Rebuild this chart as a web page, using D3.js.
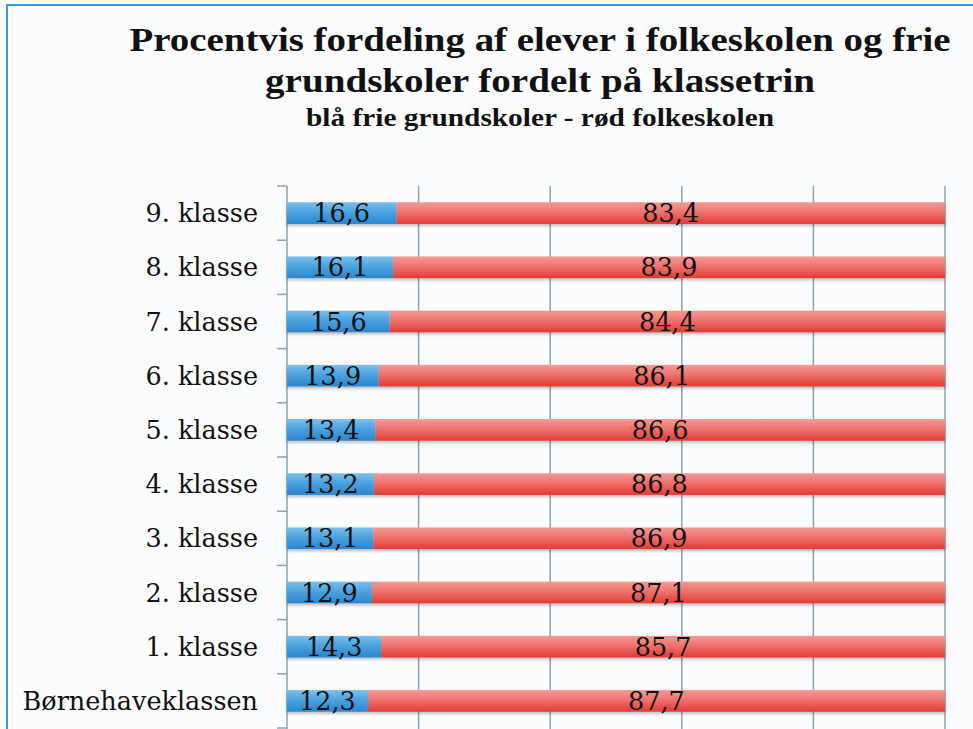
<!DOCTYPE html>
<html>
<head>
<meta charset="utf-8">
<script src="https://cdn.jsdelivr.net/npm/d3@7"></script>
<style>
  body { margin: 0; background: #fff; }
</style>
</head>
<body>
<svg id="chart" width="973" height="729"></svg>
<script>
const categories = ["9. klasse", "8. klasse", "7. klasse", "6. klasse", "5. klasse",
  "4. klasse", "3. klasse", "2. klasse", "1. klasse", "Børnehaveklassen"];
const frie = [16.6, 16.1, 15.6, 13.9, 13.4, 13.2, 13.1, 12.9, 14.3, 12.3];
const folke = [83.4, 83.9, 84.4, 86.1, 86.6, 86.8, 86.9, 87.1, 85.7, 87.7];
const gridTicks = [20, 40, 60, 80, 100];
const titleLines = [
  "Procentvis fordeling af elever i folkeskolen og frie",
  "grundskoler fordelt på klassetrin",
  "blå frie grundskoler - rød folkeskolen"
];

const svg = d3.select("#chart");

const defs = svg.append("defs");

const blueGrad = defs.append("linearGradient")
  .attr("id", "blueGrad").attr("x1", 0).attr("y1", 0).attr("x2", 0).attr("y2", 1);
blueGrad.append("stop").attr("offset", "0%").attr("stop-color", "#7cc0ec");
blueGrad.append("stop").attr("offset", "45%").attr("stop-color", "#4aa3df");
blueGrad.append("stop").attr("offset", "100%").attr("stop-color", "#2a86cc");

const redGrad = defs.append("linearGradient")
  .attr("id", "redGrad").attr("x1", 0).attr("y1", 0).attr("x2", 0).attr("y2", 1);
redGrad.append("stop").attr("offset", "0%").attr("stop-color", "#f49a95");
redGrad.append("stop").attr("offset", "45%").attr("stop-color", "#ef726d");
redGrad.append("stop").attr("offset", "100%").attr("stop-color", "#e03b36");

const shadow = defs.append("filter").attr("id", "shadow")
  .attr("x", "-5%").attr("y", "-30%").attr("width", "110%").attr("height", "180%");
shadow.append("feDropShadow")
  .attr("dx", 0).attr("dy", 2).attr("stdDeviation", 1.5)
  .attr("flood-color", "#000").attr("flood-opacity", 0.25);

// frame
svg.append("rect")
  .attr("x", 7).attr("y", 5)
  .attr("width", 980).attr("height", 740)
  .attr("fill", "#fbfcfe")
  .attr("stroke", "#3a9ae0")
  .attr("stroke-width", 2);

// title
const titleY = [51, 92, 126];
const titleSize = [34, 34, 26];
const titleLen = [821, 550, 468];
svg.selectAll(".title")
  .data(titleLines)
  .enter()
  .append("text")
  .attr("class", "title")
  .attr("x", 540)
  .attr("y", (d, i) => titleY[i])
  .attr("text-anchor", "middle")
  .attr("font-family", "'Liberation Serif', serif")
  .attr("font-weight", "bold")
  .attr("font-size", (d, i) => titleSize[i])
  .attr("textLength", (d, i) => titleLen[i])
  .attr("lengthAdjust", "spacingAndGlyphs")
  .attr("fill", "#111")
  .text(d => d);

const x = d3.scaleLinear().domain([0, 100]).range([287, 945]);
const y = d3.scaleBand()
  .domain(categories)
  .range([186, 728])
  .paddingInner(0.6)
  .paddingOuter(0.3);

const plotTop = 186, plotBottom = 729;

// gridlines
svg.selectAll(".grid")
  .data(gridTicks)
  .enter()
  .append("line")
  .attr("class", "grid")
  .attr("x1", d => x(d)).attr("x2", d => x(d))
  .attr("y1", plotTop).attr("y2", plotBottom)
  .attr("stroke", "#8ea2b2")
  .attr("stroke-width", 1.5);

// axis line with boundary ticks
svg.append("line")
  .attr("x1", x(0)).attr("x2", x(0))
  .attr("y1", plotTop).attr("y2", plotBottom)
  .attr("stroke", "#8ea2b2")
  .attr("stroke-width", 1.5);

const boundaries = d3.range(categories.length + 1).map(i => plotTop + i * y.step());
svg.selectAll(".ytick")
  .data(boundaries)
  .enter()
  .append("line")
  .attr("class", "ytick")
  .attr("x1", x(0) - 10).attr("x2", x(0))
  .attr("y1", d => d).attr("y2", d => d)
  .attr("stroke", "#8ea2b2")
  .attr("stroke-width", 1.5);

const rows = categories.map((c, i) => ({ cat: c, frie: frie[i], folke: folke[i] }));

const g = svg.append("g").attr("filter", "url(#shadow)");

g.selectAll(".folke")
  .data(rows)
  .enter()
  .append("rect")
  .attr("class", "folke")
  .attr("x", d => x(d.frie))
  .attr("y", d => y(d.cat))
  .attr("width", d => x(d.frie + d.folke) - x(d.frie))
  .attr("height", y.bandwidth())
  .attr("fill", "url(#redGrad)");

g.selectAll(".frie")
  .data(rows)
  .enter()
  .append("rect")
  .attr("class", "frie")
  .attr("x", x(0))
  .attr("y", d => y(d.cat))
  .attr("width", d => x(d.frie) - x(0))
  .attr("height", y.bandwidth())
  .attr("fill", "url(#blueGrad)");

const fmt = v => v.toFixed(1).replace(".", ",");
const labelFont = "'DejaVu Serif', serif";
const labelSize = 25.5;

// value labels
svg.selectAll(".lblFrie")
  .data(rows)
  .enter()
  .append("text")
  .attr("class", "lblFrie")
  .attr("x", d => (x(0) + x(d.frie)) / 2)
  .attr("y", d => y(d.cat) + y.bandwidth() / 2 + 9)
  .attr("text-anchor", "middle")
  .attr("font-family", labelFont)
  .attr("font-size", labelSize)
  .attr("fill", "#111")
  .text(d => fmt(d.frie));

svg.selectAll(".lblFolke")
  .data(rows)
  .enter()
  .append("text")
  .attr("class", "lblFolke")
  .attr("x", d => (x(d.frie) + x(d.frie + d.folke)) / 2)
  .attr("y", d => y(d.cat) + y.bandwidth() / 2 + 9)
  .attr("text-anchor", "middle")
  .attr("font-family", labelFont)
  .attr("font-size", labelSize)
  .attr("fill", "#111")
  .text(d => fmt(d.folke));

// category labels
svg.selectAll(".cat")
  .data(categories)
  .enter()
  .append("text")
  .attr("class", "cat")
  .attr("x", 258)
  .attr("y", d => y(d) + y.bandwidth() / 2 + 9)
  .attr("text-anchor", "end")
  .attr("font-family", labelFont)
  .attr("font-size", labelSize)
  .attr("fill", "#111")
  .text(d => d);
</script>
</body>
</html>
